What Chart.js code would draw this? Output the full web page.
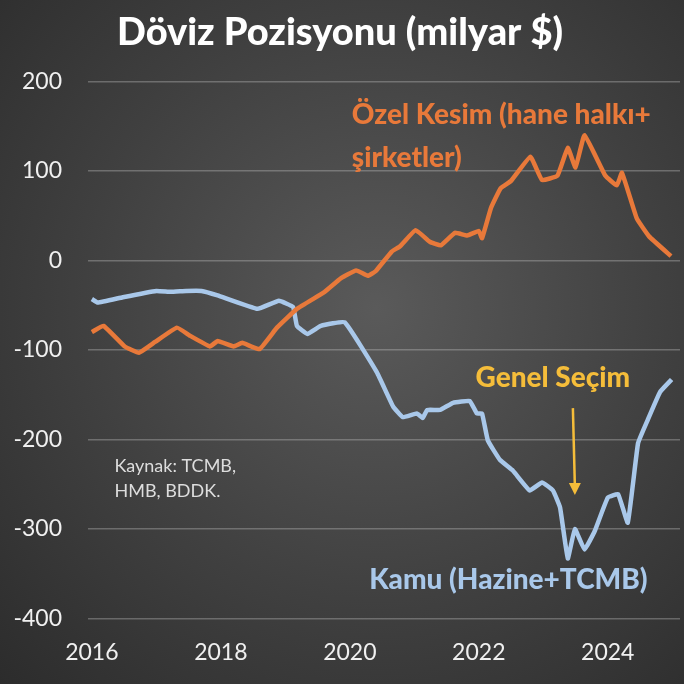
<!DOCTYPE html>
<html>
<head>
<meta charset="utf-8">
<script src="https://cdn.jsdelivr.net/npm/chart.js@4"></script>
<style>
  html, body { margin: 0; padding: 0; }
  body { width: 684px; height: 684px; background: radial-gradient(ellipse at 55% 45%, #5a5a5a 0%, #404040 55%, #2c2c2c 100%); }
  #wrap { width: 684px; height: 684px; }
</style>
</head>
<body>
<div id="wrap"><canvas id="c"></canvas></div>
<script>
// Özel Kesim (hane halkı + şirketler), [yıl, milyar $]
const ozelYears = [2016.0, 2016.18, 2016.51, 2016.73, 2016.98, 2017.32, 2017.52, 2017.83, 2017.95, 2018.2, 2018.33, 2018.6, 2018.87, 2019.18, 2019.61, 2019.86, 2020.1, 2020.28, 2020.4, 2020.65, 2020.78, 2021.02, 2021.24, 2021.41, 2021.63, 2021.82, 2022.0, 2022.05, 2022.19, 2022.34, 2022.5, 2022.8, 2022.98, 2023.22, 2023.38, 2023.5, 2023.64, 2023.96, 2024.14, 2024.22, 2024.45, 2024.64, 2024.98];
const ozelValues = [-80, -73, -96, -103, -91, -75, -84, -96, -90, -96, -92, -99, -75, -54, -35, -20, -11, -17, -12, 10, 16, 34, 21, 17, 31, 28, 33, 25, 59, 81, 89, 116, 90, 95, 126, 104, 140, 95, 84, 98, 47, 27, 5];

// Kamu (Hazine + TCMB)
const kamuYears = [2016.0, 2016.09, 2016.48, 2017.0, 2017.22, 2017.46, 2017.7, 2017.95, 2018.57, 2018.9, 2019.12, 2019.18, 2019.34, 2019.55, 2019.92, 2020.42, 2020.67, 2020.82, 2021.04, 2021.13, 2021.2, 2021.4, 2021.6, 2021.86, 2021.97, 2022.05, 2022.14, 2022.33, 2022.53, 2022.79, 2022.98, 2023.15, 2023.26, 2023.38, 2023.49, 2023.64, 2023.8, 2024.0, 2024.16, 2024.31, 2024.47, 2024.62, 2024.81, 2024.99];
const kamuValues = [-43, -47, -41, -34, -35, -34, -34, -39, -54, -45, -52, -73, -82, -73, -69, -125, -163, -175, -171, -176, -167, -167, -159, -157, -171, -171, -201, -223, -235, -257, -248, -257, -276, -333, -300, -323, -302, -265, -261, -293, -204, -178, -147, -133];

const yTicks = [200, 100, 0, -100, -200, -300, -400];
const xTicks = [2016, 2018, 2020, 2022, 2024];

const orange = '#e8793a';
const blue = '#a9c8ea';
const gold = '#f5bd3a';

const toPoints = (xs, ys) => xs.map((x, i) => ({ x: x, y: ys[i] }));

// notes drawn at data coordinates
const notes = {
  id: 'notes',
  afterDatasetsDraw(chart) {
    const { ctx, scales: { x, y } } = chart;
    ctx.save();
    ctx.textBaseline = 'middle';
    ctx.textAlign = 'left';
    ctx.font = '900 28px Lato';
    ctx.fillStyle = orange;
    ctx.fillText('Özel Kesim (hane halkı+', x.getPixelForValue(2020.03), y.getPixelForValue(163));
    ctx.fillText('şirketler)', x.getPixelForValue(2020.03), y.getPixelForValue(115));
    ctx.fillStyle = blue;
    ctx.fillText('Kamu (Hazine+TCMB)', x.getPixelForValue(2020.3), y.getPixelForValue(-357));
    ctx.fillStyle = gold;
    ctx.fillText('Genel Seçim', x.getPixelForValue(2021.95), y.getPixelForValue(-131));
    // arrow
    const ax = x.getPixelForValue(2023.49);
    const y0 = y.getPixelForValue(-165), y1 = y.getPixelForValue(-262);
    ctx.strokeStyle = gold;
    ctx.lineWidth = 2.5;
    ctx.beginPath(); ctx.moveTo(ax - 2, y0); ctx.lineTo(ax, y1 - 8); ctx.stroke();
    ctx.beginPath();
    ctx.moveTo(ax - 6, y1 - 12); ctx.lineTo(ax + 6, y1 - 12); ctx.lineTo(ax, y1); ctx.closePath();
    ctx.fillStyle = gold; ctx.fill();
    ctx.font = '18px Lato';
    ctx.fillStyle = '#dddddd';
    ctx.fillText('Kaynak: TCMB,', x.getPixelForValue(2016.35), y.getPixelForValue(-230));
    ctx.fillText('HMB, BDDK.', x.getPixelForValue(2016.35), y.getPixelForValue(-258));
    ctx.restore();
  }
};

new Chart(document.getElementById('c'), {
  type: 'line',
  data: {
    datasets: [
      { label: 'Özel Kesim', data: toPoints(ozelYears, ozelValues), borderColor: orange, borderWidth: 4.5, pointRadius: 0, tension: 0.1 },
      { label: 'Kamu', data: toPoints(kamuYears, kamuValues), borderColor: blue, borderWidth: 4.5, pointRadius: 0, tension: 0.1 }
    ]
  },
  options: {
    responsive: true,
    maintainAspectRatio: false,
    animation: false,
    layout: { padding: { left: 0, right: 4, top: 4, bottom: 6 } },
    plugins: {
      legend: { display: false },
      tooltip: { enabled: false },
      title: {
        display: true,
        text: 'Döviz Pozisyonu (milyar $)',
        color: '#ffffff',
        font: { family: 'Lato', size: 38, weight: '900' },
        padding: { top: 6, bottom: 26 }
      }
    },
    scales: {
      x: {
        type: 'linear',
        min: 2015.94,
        max: 2025.12,
        afterBuildTicks: s => { s.ticks = xTicks.map(v => ({ value: v })); },
        grid: { display: false },
        border: { display: false },
        ticks: { color: '#f0f0f0', font: { family: 'Lato', size: 23 }, padding: 12, maxRotation: 0, callback: v => String(v) }
      },
      y: {
        min: -400,
        max: 200,
        afterBuildTicks: s => { s.ticks = yTicks.map(v => ({ value: v })); },
        afterFit: s => { s.width = 88; },
        grid: { color: 'rgba(200,200,200,0.35)', lineWidth: 1.5, drawTicks: false },
        border: { display: false },
        ticks: { color: '#f0f0f0', font: { family: 'Lato', size: 23 }, padding: 26 }
      }
    }
  },
  plugins: [notes]
});
</script>
</body>
</html>
